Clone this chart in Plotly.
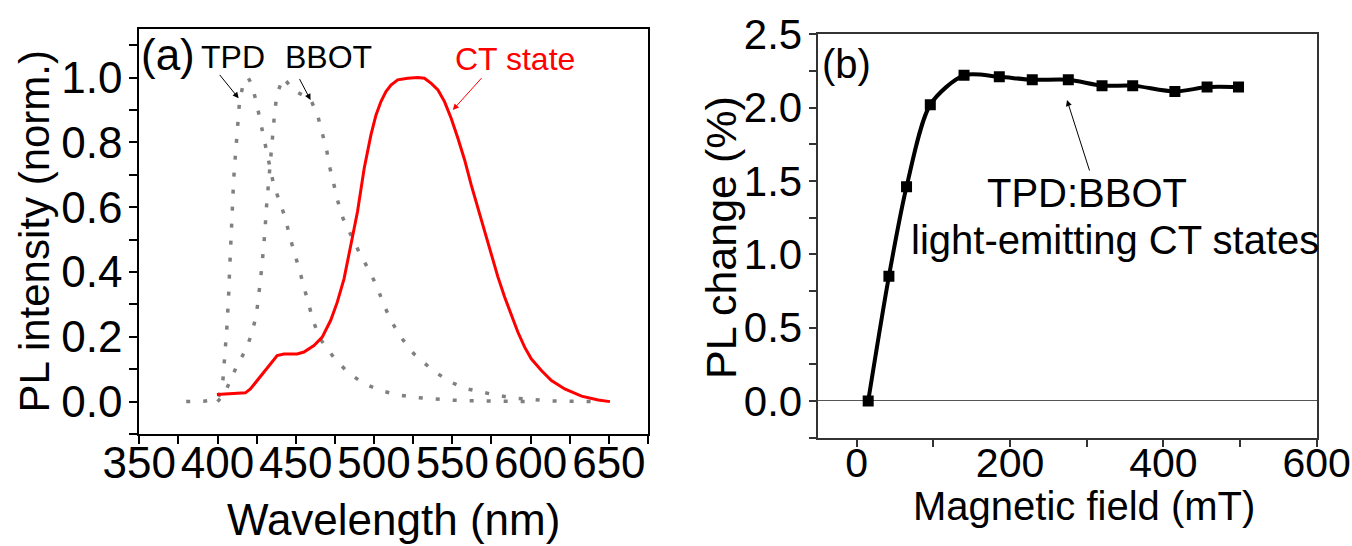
import plotly.graph_objects as go

# ---------------- Panel (a): PL spectra ----------------
tpd_wl = [380, 391, 400, 402, 403.5, 404.5, 405.4, 406.2, 406.9, 407.3, 407.7, 408.1, 408.6,
          409.0, 409.4, 410.1, 410.7, 411.6, 412.6, 413.3, 414.1, 416.3, 419.5, 421.6, 424.6,
          426.9, 429.1, 431.2, 433.4, 435.9, 439.8, 443.4, 446.2, 449.4, 452.4, 455.2, 458.0,
          461.2, 465.5, 473.4, 483.0, 493.6, 504.3, 515.0, 525.7, 537.4, 548.1, 558.4, 575, 600]
tpd_pl = [0.0, 0.001, 0.008, 0.03, 0.07, 0.122, 0.191, 0.245, 0.297, 0.350, 0.403, 0.457, 0.503,
          0.560, 0.611, 0.663, 0.714, 0.766, 0.823, 0.876, 0.929, 0.977, 1.0, 0.982, 0.929,
          0.876, 0.823, 0.771, 0.719, 0.668, 0.616, 0.565, 0.508, 0.457, 0.405, 0.354, 0.302,
          0.248, 0.194, 0.142, 0.091, 0.055, 0.034, 0.021, 0.013, 0.008, 0.005, 0.003, 0.001, 0.0]

bbot_wl = [400, 404.5, 407.7, 412.4, 418.4, 422.1, 424.9, 426.4, 427.4, 428.5, 429.5, 430.4,
           431.0, 431.9, 432.7, 433.8, 434.9, 435.7, 436.6, 438.1, 442, 448.8, 455, 459.5,
           464.2, 467.0, 469.8, 471.9, 474.5, 477.0, 480.2, 485.1, 490.4, 496.2, 501.5, 506.0,
           510.7, 517.1, 525.3, 536.4, 547.0, 557.7, 568.4, 579.1, 590.9, 601.5, 613.3, 624.0, 640]
bbot_pl = [0.0, 0.025, 0.06, 0.111, 0.163, 0.214, 0.271, 0.325, 0.374, 0.426, 0.477, 0.532,
           0.586, 0.637, 0.689, 0.740, 0.792, 0.843, 0.898, 0.951, 1.0, 0.96, 0.945, 0.933,
           0.879, 0.828, 0.774, 0.719, 0.668, 0.616, 0.565, 0.513, 0.462, 0.410, 0.359, 0.302,
           0.251, 0.199, 0.148, 0.101, 0.065, 0.041, 0.029, 0.019, 0.010, 0.005, 0.002, 0.001, 0.0]

ct_wl = [399.6, 417.8, 421.0, 425.3, 431.7, 438.1, 442.4, 450.9, 455.2, 461.6, 466.9, 472.3,
         476.5, 480.8, 485.1, 489.4, 493.7, 498.0, 501.2, 504.4, 507.6, 510.8, 515.1, 521.5,
         527.9, 532.2, 536.5, 540.8, 545.0, 549.3, 553.6, 557.9, 562.1, 566.4, 570.7, 575.0,
         579.1, 583.4, 587.6, 591.9, 596.2, 600.4, 606.9, 613.3, 621.8, 632.5, 643.2, 650.7]
ct_pl = [0.022, 0.027, 0.039, 0.065, 0.101, 0.142, 0.147, 0.147, 0.153, 0.173, 0.199, 0.251,
         0.307, 0.379, 0.482, 0.586, 0.720, 0.823, 0.884, 0.926, 0.957, 0.977, 0.993, 0.998,
         1.0, 0.998, 0.982, 0.962, 0.926, 0.874, 0.812, 0.745, 0.668, 0.596, 0.524, 0.452,
         0.385, 0.323, 0.266, 0.214, 0.168, 0.132, 0.096, 0.065, 0.039, 0.017, 0.005, 0.0]

# ---------------- Panel (b): magnetic field effect ----------------
field_mT = [15, 42, 65, 96, 140, 186, 229, 276, 320, 360, 415, 457, 498]
pl_change = [0.0, 0.85, 1.46, 2.02, 2.22, 2.21, 2.19, 2.19, 2.15, 2.15, 2.11, 2.14, 2.14]

FONT = "Liberation Sans, Arial, sans-serif"
GRAY = "#808080"

fig = go.Figure()
fig.add_trace(go.Scatter(x=tpd_wl, y=tpd_pl, mode="lines", name="TPD",
                         line=dict(color=GRAY, width=3.5, dash="4px,13px"),
                         xaxis="x", yaxis="y"))
fig.add_trace(go.Scatter(x=bbot_wl, y=bbot_pl, mode="lines", name="BBOT",
                         line=dict(color=GRAY, width=3.5, dash="4px,13px"),
                         xaxis="x", yaxis="y"))
fig.add_trace(go.Scatter(x=ct_wl, y=ct_pl, mode="lines", name="CT state",
                         line=dict(color="#ff0000", width=3),
                         xaxis="x", yaxis="y"))
fig.add_trace(go.Scatter(x=field_mT, y=pl_change, mode="lines+markers", name="TPD:BBOT",
                         line=dict(color="black", width=4, shape="spline", smoothing=0.8),
                         marker=dict(symbol="square", size=11, color="black"),
                         xaxis="x2", yaxis="y2"))

def axstyle(color, lw, fsize, standoff):
    return dict(showline=True, linecolor=color, linewidth=lw, mirror=True,
                ticks="outside", ticklen=8, tickwidth=2, tickcolor=color,
                showgrid=False, zeroline=False, automargin=False,
                ticklabelstandoff=standoff,
                tickfont=dict(family=FONT, size=fsize, color="black"))

def minor(dt, color):
    return dict(dtick=dt, tick0=0, ticks="outside", ticklen=8, tickwidth=2, tickcolor=color)

xa = axstyle("black", 2, 44, -19)
xa.update(domain=[0.1030, 0.4793], anchor="y", range=[350, 675], tick0=350, dtick=50,
          minor=minor(25, "black"))
ya = axstyle("black", 2, 44, -2)
ya.update(domain=[0.2051, 0.9469], anchor="x", range=[-0.1, 1.15], tick0=0, dtick=0.2,
          tickformat=".1f", minor=minor(0.1, "black"))
xa2 = axstyle("#333333", 1.5, 41, -20)
xa2.update(domain=[0.6053, 0.9739], anchor="y2", range=[-50, 600], tick0=0, dtick=200,
           minor=minor(100, "#333333"))
ya2 = axstyle("#333333", 1.5, 42, -2)
ya2.update(domain=[0.1984, 0.9372], anchor="x2", range=[-0.25, 2.5], tick0=0, dtick=0.5,
           tickformat=".1f", zeroline=True, zerolinecolor="#555555", zerolinewidth=1,
           minor=minor(0.25, "#333333"))

annotations = [
    # axis titles
    dict(x=0.0252, y=0.576, xref="paper", yref="paper", text="PL intensity (norm.)",
         textangle=-90, showarrow=False, xanchor="center", yanchor="middle",
         font=dict(family=FONT, size=42, color="black")),
    dict(x=0.2911, y=0.0490, xref="paper", yref="paper", text="Wavelength (nm)",
         showarrow=False, xanchor="center", yanchor="middle",
         font=dict(family=FONT, size=44, color="black")),
    dict(x=0.5333, y=0.5641, xref="paper", yref="paper", text="PL change (%)",
         textangle=-90, showarrow=False, xanchor="center", yanchor="middle",
         font=dict(family=FONT, size=43, color="black")),
    dict(x=0.8018, y=0.0730, xref="paper", yref="paper", text="Magnetic field (mT)",
         showarrow=False, xanchor="center", yanchor="middle",
         font=dict(family=FONT, size=40, color="black")),
    # panel (a) labels
    dict(x=368.5, y=1.072, xref="x", yref="y", text="(a)", showarrow=False,
         font=dict(family=FONT, size=44, color="black")),
    dict(x=409.7, y=1.063, xref="x", yref="y", text="TPD", showarrow=False,
         font=dict(family=FONT, size=32, color="black")),
    dict(x=471.2, y=1.063, xref="x", yref="y", text="BBOT", showarrow=False,
         font=dict(family=FONT, size=32, color="black")),
    dict(x=590.2, y=1.058, xref="x", yref="y", text="CT state", showarrow=False,
         font=dict(family=FONT, size=32, color="#ff0000")),
    dict(x=413.5, y=0.936, ax=400.6, ay=1.013, xref="x", yref="y", axref="x", ayref="y",
         text="", showarrow=True, arrowhead=2, arrowsize=1.2, arrowwidth=1, arrowcolor="black"),
    dict(x=459.4, y=0.931, ax=451.9, ay=1.0, xref="x", yref="y", axref="x", ayref="y",
         text="", showarrow=True, arrowhead=2, arrowsize=1.2, arrowwidth=1, arrowcolor="black"),
    dict(x=550.3, y=0.900, ax=569.5, ay=1.003, xref="x", yref="y", axref="x", ayref="y",
         text="", showarrow=True, arrowhead=2, arrowsize=1.2, arrowwidth=1, arrowcolor="#ff0000"),
    # panel (b) labels
    dict(x=-12.7, y=2.297, xref="x2", yref="y2", text="(b)", showarrow=False,
         font=dict(family=FONT, size=40, color="black")),
    dict(x=301, y=1.42, xref="x2", yref="y2", text="TPD:BBOT", showarrow=False,
         font=dict(family=FONT, size=40, color="black")),
    dict(x=337, y=1.095, xref="x2", yref="y2", text="light-emitting CT states", showarrow=False,
         font=dict(family=FONT, size=40, color="black")),
    dict(x=274.3, y=2.052, ax=304.3, ay=1.561, xref="x2", yref="y2", axref="x2", ayref="y2",
         text="", showarrow=True, arrowhead=2, arrowsize=1.2, arrowwidth=1, arrowcolor="black"),
]

fig.update_layout(width=1352, height=546, autosize=False,
                  margin=dict(l=0, r=0, t=0, b=0),
                  paper_bgcolor="white", plot_bgcolor="white",
                  showlegend=False, font=dict(family=FONT, color="black"),
                  xaxis=xa, yaxis=ya, xaxis2=xa2, yaxis2=ya2,
                  annotations=annotations)

fig.write_html("out.html", config={"displayModeBar": False},
               post_script="document.body.style.margin='0';document.body.style.overflow='hidden';")
